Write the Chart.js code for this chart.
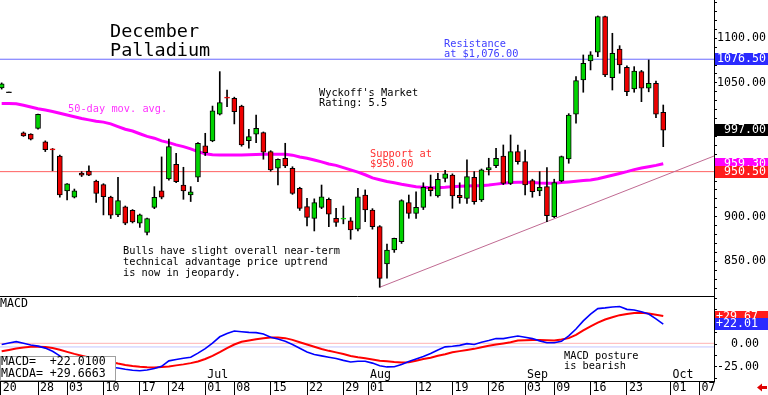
<!DOCTYPE html>
<html><head><meta charset="utf-8">
<script src="https://cdn.jsdelivr.net/npm/chart.js@4"></script>
<style>
html,body{margin:0;padding:0;background:#fff;}
#wrap{position:relative;width:768px;height:395px;overflow:hidden;background:#fff;}
#main{position:absolute;left:0;top:0;}
#macd{position:absolute;left:0;top:297px;}
</style></head><body>
<div id="wrap"><canvas id="main" width="768" height="297"></canvas><canvas id="macd" width="768" height="98"></canvas></div>
<script>
// ---- data (trading-day index 0..91) ----
const OPEN = [1044.3,1039.5,null,994,992.5,999,984,976,968,929,
 922,949,951,940,936,922,902,911,907,892.6,
 882.5,910.5,929,942.3,958.7,935.5,924.3,944.2,979.3,985,
 1014.8,1033.6,1032.7,1024,985.2,992.4,994.2,972.9,954.3,965.5,
 954.3,931.8,911.2,898.2,910.5,919.5,898.2,897.5,895.5,885.9,
 924.3,907.5,888.8,847,862.7,872,915.7,903.8,910.5,933,
 923.2,943,946.7,924,920.6,944.2,918.7,952.4,957.2,968,
 937.4,972.9,961.7,940.4,928.8,933.7,900,940,964.7,1014.8,
 1053.3,1074.6,1084.3,1124.2,1055.8,1088,1067.5,1043.2,1062.6,1044,
 1049.6,1017];
const HIGH = [1050,1039.8,null,995,993,1015,985,976.5,969,937,
 931,950.5,957,941,937,923,944,912,908,903,
 898.5,933.7,967,987,971,955.4,933.7,983,993.5,1024,
 1062.6,1042,1034,1025,998,1014,995,974,965,982.3,
 956,933,920.6,920,935.5,921,909.4,912,899,931.8,
 930,909,890,869.4,876,919,924.3,928,938,946.7,
 948.7,952,948,938,963.6,950.5,953.5,965.5,976.7,980.4,
 991.6,980.4,974.8,942,950.5,955,942,968,1015.5,1057,
 1081.3,1085,1125,1125,1105.6,1091.7,1069,1068.2,1064,1075.7,
 1052,1025.2];
const LOW = [1043,1039.2,null,990,986,998,973,951.5,922,918.7,
 921,945,946,916,902,898,900,891,893,888,
 879.5,909,920,941,938,919.5,917,939.2,968.5,984,
 1014,1023.3,1004,979,976.7,983,964.4,951,935.5,955,
 925,907,889.6,884,909,888.8,889,892,874.7,884,
 894.4,886,820.9,831,860,870,898.2,898,908,923.2,
 922,939,909.4,915,915,914,917,946.7,955,936,
 936,959,924.3,921.8,923.5,894.4,899,939,959.9,1004.7,
 1039.5,1064.5,1079.4,1057,1042,1060.8,1035.7,1039.5,1028.9,1040,
 1011,978.5];
const CLOSE = [1048.8,1039.5,null,990.5,987,1014.8,975,975,924.5,936.7,
 929,946.5,946.5,926,922.4,901.6,918,892.6,894,902,
 898,921.8,921.8,978.5,939.2,928.8,928,982.3,971.8,1018.8,
 1027.8,1033.2,1017.7,980.4,989.7,999.1,972.2,952.4,964.4,956.8,
 926.2,909.4,899.3,915.7,922.4,902.7,893.7,898,885.1,922.4,
 907.5,888.8,830.9,862.7,875.8,918,903.8,910.5,933,929.2,
 941.9,948,923.2,921.3,944.9,916.8,952.4,955,965.5,937.4,
 972.9,961.7,935.5,928,933,901.2,938.1,967.3,1014,1052.5,
 1072,1081.3,1124.2,1058.9,1083.2,1070,1040.1,1063.3,1044,1049.6,
 1014.8,997];
const MA50 = [1027,1027,1026.5,1025,1023,1021,1019.5,1018,1016,1014,
 1012,1010,1008.5,1007,1006,1004,1001,998,996,993,
 990,988,985,983,980.5,978.5,976,973,970.5,969.5,
 969.2,969.2,969.2,969.2,969.5,969.8,970,970,970,970,
 969,967,965.5,963.5,961.5,959,957.5,955,952.5,950,
 947,943.5,941.5,939.5,938,936.3,935,933.5,933,932.5,
 932.5,933,933.7,934,934.4,934.6,934.8,935.5,936.5,937.4,
 938.3,938.6,938.6,938.3,937.8,937.5,937.6,938.3,939,939.8,
 940.5,941.2,942.5,944.5,946.5,948.5,950.5,952.8,954.5,956,
 957.5,959.3];
const MACD = [-0.5,1.2,2.6,0.8,-1,-2.3,-4.5,-8,-13,-17,
 -19.5,-21.5,-23,-24,-25,-25.5,-26.3,-27.7,-28.8,-29.4,
 -28.5,-27,-24.5,-18.5,-17,-15.7,-14.5,-10,-5,1,
 8,11.5,14.3,13.5,12.8,12.6,11,7.5,5.5,3,
 -0.5,-4.6,-8.8,-11.5,-13,-14.5,-16,-18,-19.8,-19,
 -19,-21,-24,-25.2,-25,-22.5,-19.2,-16.5,-13.8,-10.4,
 -6.5,-3.1,-2.5,-1.5,0.4,-0.5,2,3.8,6,6,
 7.5,8.8,7.5,6,3.5,1.5,1.5,3,9,16.5,
 25.5,33,39,39.8,40.8,41.3,38.2,37.5,35.5,33,
 27.8,22.01];
const MACDA = [-8,-6.5,-4.9,-3.8,-3,-2.9,-3.2,-4.3,-6.3,-8.6,
 -10.8,-12.8,-14.8,-16.6,-18.2,-19.8,-21.5,-23,-24.2,-25,
 -25.5,-25.7,-25.4,-24.8,-23.5,-22.4,-21,-19.3,-16.5,-13,
 -9,-4.5,-0.5,2.5,4,5.3,6.5,7.2,7.2,6.5,
 4.6,2,-0.5,-3,-5.5,-7.5,-9.2,-11,-13.2,-14.5,
 -15.6,-17,-18.3,-19,-19.8,-20.4,-20,-18.3,-16.5,-15,
 -13,-11.2,-9,-7.8,-6.5,-5.3,-3.5,-1.8,-0.5,0.7,
 2,3.8,4.2,4.4,4.4,4.2,4,5,6.5,10,
 15,19.5,23.5,27,29.5,31.8,33,34.3,34.5,33.6,
 32.3,30.8];
const RESISTANCE = 1076.5;
const SUPPORT = 950.5;
const TREND_X = [52, 97.98];
const TREND_Y = [820.9, 968.0];
const LAST_CLOSE = 997.00, LAST_MA = 959.30, LAST_MACD = 22.0100, LAST_MACDA = 29.6663;
const MACD_ZERO_RED = 0.8, MACD_ZERO_BLUE = -3.2;
const DAY_TICKS = [-0.14,5,9,14,19,23,28,32,37,42,47,50.4,57,62,67,72,76,81,86,92,96];
const DAY_LABELS = ['20','28','03','10','17','24','01','08','15','22','29','01','12','19','26','03','09','16','23','01','07'];
const MONTH_LABELS = ['','','','','','','Jul','','','','','Aug','','','','Sep','','','','Oct',''];
const PRICE_LABELED = [1100,1050,900,850];
const MACD_LABELED = [0,-25];

// ---- layout constants ----
const XMIN = -0.23, XMAX = 97.98;
const YMIN = 811.1, YMAX = 1142.9;
const MMIN = -40.7, MMAX = 51.8;
const FONT = '"DejaVu Sans Mono", monospace';
const GREEN = '#00d400', RED = '#ee0000';

Chart.defaults.font.family = FONT;
Chart.defaults.color = '#000';
Chart.defaults.animation = false;

const N = OPEN.length;
const idx = [...Array(N).keys()].filter(i => OPEN[i] !== null);
const wickData = idx.map(i => ({x: i, y: [LOW[i], HIGH[i]]}));
const bodyData = idx.map(i => {
  let lo = Math.min(OPEN[i], CLOSE[i]), hi = Math.max(OPEN[i], CLOSE[i]);
  if (hi - lo < 1.2) { const m = (hi + lo) / 2; lo = m - 0.6; hi = m + 0.6; }
  return {x: i, y: [lo, hi]};
});
const bodyColor = idx.map(i => CLOSE[i] > OPEN[i] ? GREEN : (CLOSE[i] < OPEN[i] ? RED : '#000'));
const bodyBorder = idx.map((i, k) => Math.abs(CLOSE[i] - OPEN[i]) < 1.5 ? bodyColor[k] : '#000');
const maData = MA50.map((v, i) => ({x: i, y: v}));
const macdData = MACD.map((v, i) => ({x: i, y: v}));
const macdaData = MACDA.map((v, i) => ({x: i, y: v}));
const hline = v => [{x: XMIN, y: v}, {x: XMAX, y: v}];

function range(a, b, s) { const r = []; for (let v = a; v <= b + 1e-9; v += s) r.push(+v.toFixed(3)); return r; }
const PRICE_TICK_VALUES = [YMIN, ...range(820, 1140, 10), YMAX];
const MACD_TICK_VALUES = [MMIN, ...range(-37.5, 50, 12.5), MMAX];
const noPad = s => { s.paddingTop = 0; s.paddingBottom = 0; s.paddingLeft = 0; s.paddingRight = 0; };

const annotMain = {
  id: 'annotMain',
  afterDraw(chart) {
    const ctx = chart.ctx, y = chart.scales.y;
    ctx.save();
    ctx.textBaseline = 'alphabetic';
    ctx.fillStyle = '#000';
    ctx.font = '18.5px ' + FONT;
    ctx.fillText('December', 110, 36.5);
    ctx.fillText('Palladium', 110, 56);
    ctx.font = '10.3px ' + FONT;
    ctx.textBaseline = 'middle';
    ctx.fillStyle = '#ff33ff';
    ctx.fillText('50-day mov. avg.', 68, 109);
    ctx.fillStyle = '#000';
    ctx.fillText("Wyckoff's Market", 319, 93.5);
    ctx.fillText('Rating: 5.5', 319, 103.5);
    ctx.fillStyle = '#4040ff';
    ctx.fillText('Resistance', 444, 44);
    ctx.fillText('at $1,076.00', 444, 54);
    ctx.fillStyle = '#ff3030';
    ctx.fillText('Support at', 370, 154);
    ctx.fillText('$950.00', 370, 164);
    ctx.fillStyle = '#000';
    ctx.fillText('Bulls have slight overall near-term', 123, 251.5);
    ctx.fillText('technical advantage price uptrend', 123, 262.5);
    ctx.fillText('is now in jeopardy.', 123, 273.5);
    // right-side value boxes
    ctx.font = '11.6px ' + FONT;
    const box = (val, bg) => {
      const py = y.getPixelForValue(val);
      ctx.fillStyle = bg;
      ctx.fillRect(715, Math.round(py - 6), 53, 12);
      ctx.fillStyle = '#fff';
      ctx.fillText(val.toFixed(2).padStart(7, ' '), 717, py);
    };
    box(RESISTANCE, '#2a2aff');
    box(LAST_CLOSE, '#000000');
    box(LAST_MA, '#ff00ff');
    box(SUPPORT, '#ff1c1c');
    ctx.restore();
  }
};

const annotMacd = {
  id: 'annotMacd',
  afterDraw(chart) {
    const ctx = chart.ctx, y = chart.scales.y;
    ctx.save();
    ctx.textBaseline = 'middle';
    ctx.fillStyle = '#000';
    ctx.font = '11.6px ' + FONT;
    ctx.fillText('MACD', 0, 7);
    ctx.font = '10.3px ' + FONT;
    ctx.fillText('MACD posture', 564, 59);
    ctx.fillText('is bearish', 564, 69.5);
    // value box
    ctx.fillStyle = '#fff';
    ctx.fillRect(0, 59, 116, 25);
    ctx.strokeStyle = '#a0a0a0';
    ctx.lineWidth = 1;
    ctx.strokeRect(0.5, 59.5, 115, 24);
    ctx.fillStyle = '#000';
    ctx.font = '11.6px ' + FONT;
    ctx.fillText('MACD=  ' + (LAST_MACD >= 0 ? '+' : '') + LAST_MACD.toFixed(4), 1, 65);
    ctx.fillText('MACDA= ' + (LAST_MACDA >= 0 ? '+' : '') + LAST_MACDA.toFixed(4), 1, 77);
    // right-side boxes
    const box = (val, bg) => {
      const py = y.getPixelForValue(val);
      ctx.fillStyle = bg;
      ctx.fillRect(715, Math.round(py - 6), 53, 12);
      ctx.fillStyle = '#fff';
      ctx.fillText((val >= 0 ? '+' : '') + val.toFixed(2), 716, py);
    };
    box(LAST_MACDA, '#ff1c1c');
    box(LAST_MACD, '#2a2aff');
    // red arrow
    ctx.fillStyle = '#e00000';
    ctx.beginPath();
    ctx.moveTo(757, 90.5); ctx.lineTo(762, 86.5); ctx.lineTo(762, 89); ctx.lineTo(767, 89);
    ctx.lineTo(767, 92); ctx.lineTo(762, 92); ctx.lineTo(762, 94.5); ctx.closePath(); ctx.fill();
    ctx.restore();
  }
};

new Chart(document.getElementById('main'), {
  type: 'bar',
  data: {
    datasets: [
      {label: 'body', data: bodyData, backgroundColor: bodyColor, borderColor: bodyBorder,
       borderWidth: 1, borderSkipped: false, barThickness: 5, grouped: false, order: 0},
      {label: 'wick', data: wickData, backgroundColor: '#000', borderWidth: 0,
       barThickness: 1, grouped: false, order: 1},
      {type: 'line', label: 'ma', data: maData, borderColor: '#ff00ff', borderWidth: 3,
       pointRadius: 0, tension: 0, order: 2},
      {type: 'line', label: 'trend', data: TREND_X.map((x, k) => ({x, y: TREND_Y[k]})),
       borderColor: '#c06a92', borderWidth: 1, pointRadius: 0, order: 3},
      {type: 'line', label: 'resistance', data: hline(RESISTANCE), borderColor: '#6a6aff',
       borderWidth: 1, pointRadius: 0, order: 4},
      {type: 'line', label: 'support', data: hline(SUPPORT), borderColor: '#ff6060',
       borderWidth: 1, pointRadius: 0, order: 4}
    ]
  },
  options: {
    responsive: false, devicePixelRatio: 1, animation: false,
    layout: {padding: 0, autoPadding: false},
    plugins: {legend: {display: false}, tooltip: {enabled: false}},
    scales: {
      x: {type: 'linear', min: XMIN, max: XMAX, offset: false,
          grid: {display: false, drawTicks: false}, ticks: {display: false},
          border: {display: true, color: '#000', width: 1},
          afterFit: s => { s.height = 1; noPad(s); }},
      y: {type: 'linear', position: 'right', min: YMIN, max: YMAX,
          afterBuildTicks: s => { s.ticks = PRICE_TICK_VALUES.map(v => ({value: v})); },
          afterFit: s => { s.width = 54; noPad(s); },
          grid: {drawOnChartArea: false, drawTicks: true, tickLength: 3, color: '#000'},
          border: {display: true, color: '#000', width: 1},
          ticks: {padding: 0, font: {size: 11.6}, color: '#000', autoSkip: false,
            callback: v => (v === YMIN || v === YMAX) ? null :
              (PRICE_LABELED.includes(v) ? v.toFixed(2).padStart(7, ' ') : '')}}
    }
  },
  plugins: [annotMain]
});

new Chart(document.getElementById('macd'), {
  type: 'line',
  data: {
    datasets: [
      {label: 'MACD', data: macdData, borderColor: '#0000ff', borderWidth: 1.6, pointRadius: 0, tension: 0, order: 0},
      {label: 'MACDA', data: macdaData, borderColor: '#ff0000', borderWidth: 2, pointRadius: 0, tension: 0, order: 1},
      {label: 'z1', data: hline(MACD_ZERO_RED), borderColor: '#ffb4b4', borderWidth: 1, pointRadius: 0, order: 2},
      {label: 'z2', data: hline(MACD_ZERO_BLUE), borderColor: '#c4c4ff', borderWidth: 1, pointRadius: 0, order: 2}
    ]
  },
  options: {
    responsive: false, devicePixelRatio: 1, animation: false,
    layout: {padding: 0, autoPadding: false},
    plugins: {legend: {display: false}, tooltip: {enabled: false}},
    scales: {
      x: {type: 'linear', min: XMIN, max: XMAX, offset: false, position: 'bottom',
          afterBuildTicks: s => { s.ticks = DAY_TICKS.map(v => ({value: v})); },
          afterFit: s => { s.height = 14; noPad(s); },
          grid: {drawOnChartArea: false, drawTicks: true, tickLength: 14, color: '#000', offset: false},
          border: {display: true, color: '#000', width: 1},
          ticks: {autoSkip: false, maxRotation: 0, minRotation: 0, mirror: true, padding: -0.6,
            align: 'start', labelOffset: 2, color: '#000',
            font: {size: 11.6, lineHeight: 1.14},
            callback: (v, i) => [MONTH_LABELS[i], DAY_LABELS[i]]}},
      y: {type: 'linear', position: 'right', min: MMIN, max: MMAX,
          afterBuildTicks: s => { s.ticks = MACD_TICK_VALUES.map(v => ({value: v})); },
          afterFit: s => { s.width = 54; noPad(s); },
          grid: {drawOnChartArea: false, drawTicks: true, tickLength: 3, color: '#000'},
          border: {display: true, color: '#000', width: 1},
          ticks: {padding: 0, font: {size: 11.6}, color: '#000', autoSkip: false,
            callback: v => (v === MMIN || v === MMAX) ? null :
              (MACD_LABELED.includes(v) ? v.toFixed(2).padStart(6, ' ') : '')}}
    }
  },
  plugins: [annotMacd]
});
</script>
</body></html>
